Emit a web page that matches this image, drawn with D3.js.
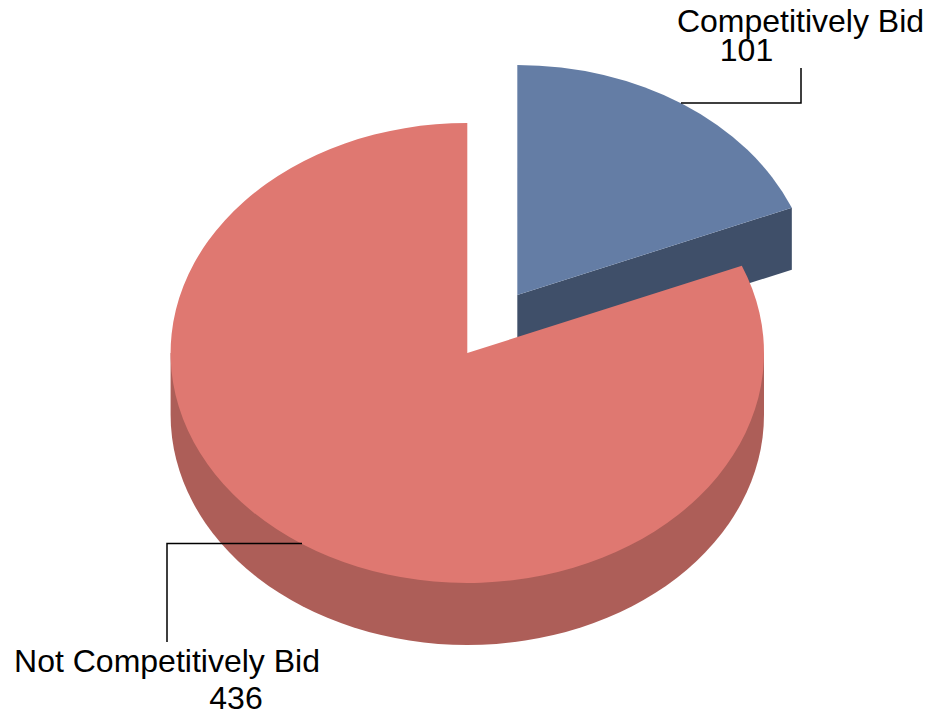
<!DOCTYPE html>
<html>
<head>
<meta charset="utf-8">
<script src="https://cdn.jsdelivr.net/npm/d3@7"></script>
<style>
  html, body { margin: 0; padding: 0; background: #fff; }
  svg { display: block; }
  text { font-family: "Liberation Sans", Arial, sans-serif; font-size: 32px; fill: #000; }
</style>
</head>
<body>
<div class="canvas"></div>
<script>
// data
const categories = ['Competitively Bid', 'Not Competitively Bid'];
const values = [101, 436];
const topColors = ['#647da5', '#df7871'];
const sideColors = ['#3f4f69', '#ad5e58'];

// main svg
const svg = d3.select('.canvas').append('svg')
    .attr('width', 930)
    .attr('height', 716);

// pie geometry
const cx = 467.3, cy = 353;
const rx = 296.7, ry = 230;
const depth = 62;
const explode = [50, -58];   // blue slice pulled out

const pie = d3.pie().sort(null).value(d => d);
const slices = pie(values);
const arc = d3.arc().innerRadius(0).outerRadius(rx);

// point on the rim for a pie angle, squashed
const rim = a => [rx * Math.sin(a), -ry * Math.cos(a)];
const squash = `scale(1, ${ry / rx})`;

// blue slice, side first then top
const blue = svg.append('g')
    .attr('transform', `translate(${cx + explode[0]}, ${cy + explode[1]})`);
const blueEnd = rim(slices[0].endAngle);
blue.append('path')
    .attr('d', d3.line()([[0, 0], blueEnd, [blueEnd[0], blueEnd[1] + depth], [0, depth]]))
    .attr('fill', sideColors[0]);
blue.append('path')
    .attr('d', arc(slices[0]))
    .attr('transform', squash)
    .attr('fill', topColors[0]);

// red slice, wall is lower half of ellipse pushed down by depth
const red = svg.append('g')
    .attr('transform', `translate(${cx}, ${cy})`);
red.append('rect')
    .attr('x', -rx)
    .attr('width', rx * 2)
    .attr('height', depth)
    .attr('fill', sideColors[1]);
red.append('path')
    .attr('d', arc({startAngle: Math.PI / 2, endAngle: Math.PI * 1.5}))
    .attr('transform', `translate(0, ${depth}) ${squash}`)
    .attr('fill', sideColors[1]);
red.append('path')
    .attr('d', arc(slices[1]))
    .attr('transform', squash)
    .attr('fill', topColors[1]);

// leader lines
const leader = d3.line();
svg.append('path')
    .attr('d', leader([[681, 103], [801, 103], [801, 68]]))
    .attr('fill', 'none')
    .attr('stroke', '#000')
    .attr('stroke-width', 1.5);
svg.append('path')
    .attr('d', leader([[302, 543.5], [167, 543.5], [167, 642]]))
    .attr('fill', 'none')
    .attr('stroke', '#000')
    .attr('stroke-width', 1.5);

// labels
svg.append('text').attr('x', 800.5).attr('y', 32).attr('text-anchor', 'middle').text(categories[0]);
svg.append('text').attr('x', 746.5).attr('y', 61).attr('text-anchor', 'middle').text(values[0]);
svg.append('text').attr('x', 167).attr('y', 671.5).attr('text-anchor', 'middle').text(categories[1]);
svg.append('text').attr('x', 236).attr('y', 708.5).attr('text-anchor', 'middle').text(values[1]);
</script>
</body>
</html>
